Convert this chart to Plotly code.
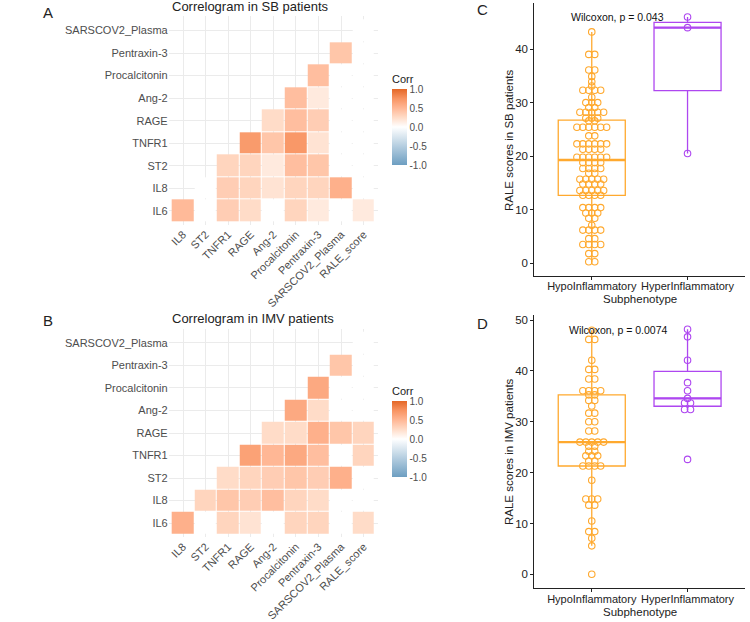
import plotly.graph_objects as go
import numpy as np
from collections import Counter

W, H = 750, 622

# ---------------- DATA ----------------
corr_cols = ["IL8", "ST2", "TNFR1", "RAGE", "Ang-2", "Procalcitonin", "Pentraxin-3", "SARSCOV2_Plasma", "RALE_score"]
corr_rows = ["IL6", "IL8", "ST2", "TNFR1", "RAGE", "Ang-2", "Procalcitonin", "Pentraxin-3", "SARSCOV2_Plasma"]

# lower-triangle correlations (row i starts at column i); 0 = not significant (blank)
sb_corr = [
    [0.48, 0, 0.35, 0.25, 0, 0.30, 0.15, 0, 0.15],
    [0, 0.35, 0.30, 0.20, 0.30, 0.30, 0.55, 0],
    [0.30, 0.30, 0.15, 0.45, 0.40, 0, 0],
    [0.70, 0.40, 0.72, 0.20, 0, 0],
    [0.25, 0.45, 0.35, 0, 0],
    [0.45, 0.15, 0, 0],
    [0.45, 0, 0],
    [0.40, 0],
    [0],
]
imv_corr = [
    [0.55, 0, 0.30, 0.20, 0, 0.30, 0.30, 0, 0.25],
    [0.30, 0.40, 0.35, 0.45, 0.30, 0.25, 0, 0],
    [0.25, 0.30, 0.35, 0.40, 0.35, 0.55, 0],
    [0.65, 0.50, 0.60, 0.45, 0, 0.30],
    [0.25, 0.25, 0.55, 0.40, 0.30],
    [0.60, 0.25, 0, 0],
    [0.60, 0, 0],
    [0.40, 0],
    [0],
]

groups = ["HypoInflammatory", "HyperInflammatory"]

sb_hypo = ([43.2] + [39.0]*2 + [36.1]*2 + [34.9, 33.9, 33.1] + [32.3]*4 + [31.0] + [30.0]*3 +
           [29.1]*2 + [28.2]*5 + [27.1]*3 + [26.6]*2 + [25.4]*6 + [23.8]*2 + [22.3]*6 + [21.3]*4 +
           [19.8]*6 + [18.8]*4 + [17.7]*4 + [16.8]*2 + [15.7]*5 + [14.8]*4 + [13.6]*5 + [12.7]*4 +
           [10.4]*4 + [9.4]*3 + [8.4]*2 + [7.1] + [6.2]*4 + [4.6]*2 + [3.5]*4 + [1.8]*2 + [0.3]*2)
sb_hyper = [46.0, 44.0, 20.5]

imv_hypo = ([48.0] + [46.2]*2 + [42.1] + [40.3]*2 + [38.4]*2 + [36.1]*4 + [35.3]*2 + [34.2]*2 +
            [33.1] + [31.7]*2 + [30.0]*2 + [28.2]*2 + [26.0]*5 + [25.2]*2 + [24.2]*2 + [23.3]*3 +
            [22.3]*2 + [21.3]*4 + [18.5] + [14.8]*3 + [13.6]*2 + [10.5] + [8.4]*2 + [7.1] + [5.6] + [0.0])
imv_hyper = [48.2, 46.7, 42.1, 37.7, 36.1, 34.6, 33.7, 33.7, 32.4, 32.4, 22.6]

sb_label = "Wilcoxon, p = 0.043"
imv_label = "Wilcoxon, p = 0.0074"

# ---------------- STYLE ----------------
FONT = "Liberation Sans, Arial, sans-serif"
ORANGE = "#FFA92E"
PURPLE = "#AE47F0"
# approximates ggplot's Lab-space gradient2 (blue - white - orange)
CSCALE = [[0, "#6D9EC1"], [0.25, "#B5CEE0"], [0.5, "#FFFFFF"], [0.625, "#FFDCC8"],
          [0.75, "#FFB795"], [0.875, "#F89462"], [1, "#E46726"]]


def px_x(a, b):
    return [a / W, b / W]


def px_y(top, bottom):
    return [1 - bottom / H, 1 - top / H]


def tri_matrix(rows):
    return [[None] * i + list(r) for i, r in enumerate(rows)]


def swarm(vals, center, step):
    counts = Counter(vals)
    seen = {}
    xs, ys = [], []
    for v in vals:
        n = counts[v]
        k = seen.get(v, 0)
        seen[v] = k + 1
        xs.append(center + (k - (n - 1) / 2) * step)
        ys.append(v)
    return xs, ys


def box_stats(vals):
    a = np.asarray(vals, dtype=float)
    q1, med, q3 = np.percentile(a, [25, 50, 75])
    iqr = q3 - q1
    lo = a[a >= q1 - 1.5 * iqr].min()
    hi = a[a <= q3 + 1.5 * iqr].max()
    return float(q1), float(med), float(q3), float(lo), float(hi)


fig = go.Figure()

# ---------------- HEATMAPS ----------------
heat_specs = [
    (sb_corr, "x", "y", 165.0),
    (imv_corr, "x2", "y2", 477.0),
]
for rows, xa, ya, cb_bottom in heat_specs:
    fig.add_trace(go.Heatmap(
        z=tri_matrix(rows),
        x=list(range(len(corr_cols))),
        y=list(range(len(corr_rows))),
        xaxis=xa, yaxis=ya,
        zmin=-1, zmax=1, colorscale=CSCALE,
        xgap=1, ygap=1, hoverongaps=False,
        colorbar=dict(
            title=dict(text="Corr", side="top", font=dict(size=11, color="#222", family=FONT)),
            x=392 / W, xanchor="left", xpad=0,
            y=1 - cb_bottom / H, yanchor="bottom", ypad=0,
            lenmode="pixels", len=93, thickness=15,
            outlinewidth=0, ticks="",
            tickvals=[1, 0.5, 0, -0.5, -1],
            ticktext=["1.0", "0.5", "0.0", "-0.5", "-1.0"],
            tickfont=dict(size=10, color="#4D4D4D", family=FONT),
        ),
    ))

heat_xaxis = dict(
    domain=px_x(168.7, 378.0), range=[-0.633, 8.633],
    tickmode="array", tickvals=list(range(len(corr_cols))), ticktext=corr_cols,
    tickangle=-45, showgrid=True, gridcolor="#EBEBEB", gridwidth=1,
    zeroline=False, showline=False, ticks="",
    tickfont=dict(size=11, color="#4D4D4D", family=FONT),
)
heat_yaxis = dict(
    range=[-0.633, 8.633],
    tickmode="array", tickvals=list(range(len(corr_rows))), ticktext=corr_rows,
    showgrid=True, gridcolor="#EBEBEB", gridwidth=1,
    zeroline=False, showline=False, ticks="",
    tickfont=dict(size=11, color="#4D4D4D", family=FONT),
)

# ---------------- BOX + DOT PLOTS ----------------
box_specs = [
    (sb_hypo, sb_hyper, "x3", "y3"),
    (imv_hypo, imv_hyper, "x4", "y4"),
]
for hypo, hyper, xa, ya in box_specs:
    for gi, (vals, col) in enumerate([(hypo, ORANGE), (hyper, PURPLE)]):
        pos = gi + 1
        q1, med, q3, lo, hi = box_stats(vals)
        fig.add_trace(go.Box(
            x=[pos], q1=[q1], median=[med], q3=[q3], lowerfence=[lo], upperfence=[hi],
            xaxis=xa, yaxis=ya,
            width=0.7, whiskerwidth=0, boxpoints=False,
            line=dict(color=col, width=1.3), fillcolor="rgba(255,255,255,0)",
            showlegend=False, hoverinfo="skip",
        ))
        # thicker median bar, as in ggplot
        fig.add_trace(go.Scatter(
            x=[pos - 0.35, pos + 0.35], y=[med, med], xaxis=xa, yaxis=ya, mode="lines",
            line=dict(color=col, width=2.4), showlegend=False, hoverinfo="skip",
        ))
        sx, sy = swarm(vals, pos, 0.062)
        fig.add_trace(go.Scatter(
            x=sx, y=sy, xaxis=xa, yaxis=ya, mode="markers",
            marker=dict(symbol="circle-open", size=6.5, color=col, line=dict(width=1.1)),
            showlegend=False, hoverinfo="skip",
        ))

box_xaxis = dict(
    domain=px_x(534.3, 745.0), range=[0.4, 2.6],
    tickmode="array", tickvals=[1, 2], ticktext=groups, tickangle=0,
    showline=True, linecolor="#222", linewidth=1, ticks="outside", ticklen=3,
    tickcolor="#222", showgrid=False, zeroline=False, ticklabelstandoff=-3,
    tickfont=dict(size=11, color="#222", family=FONT),
)
box_yaxis = dict(
    showline=True, linecolor="#222", linewidth=1, ticks="outside", ticklen=3,
    tickcolor="#222", showgrid=False, zeroline=False,
    tickvals=[0, 10, 20, 30, 40, 50],
    tickfont=dict(size=11.5, color="#222", family=FONT),
)

fig.update_layout(
    width=W, height=H, margin=dict(l=0, r=0, t=0, b=0),
    paper_bgcolor="white", plot_bgcolor="white", showlegend=False,
    font=dict(family=FONT),
    xaxis=dict(heat_xaxis, anchor="y"),
    yaxis=dict(heat_yaxis, domain=px_y(16.3, 225.0), anchor="x"),
    xaxis2=dict(heat_xaxis, anchor="y2"),
    yaxis2=dict(heat_yaxis, domain=px_y(328.7, 537.3), anchor="x2"),
    xaxis3=dict(box_xaxis, anchor="y3"),
    yaxis3=dict(box_yaxis, domain=px_y(3, 276), range=[-2.37, 48.6], anchor="x3"),
    xaxis4=dict(box_xaxis, anchor="y4"),
    yaxis4=dict(box_yaxis, domain=px_y(315, 588.3), range=[-2.75, 51.0], anchor="x4"),
)

ann = []


def paper_text(text, x, y, size, xanchor="center", color="#222", angle=0):
    ann.append(dict(text=text, x=x / W, y=1 - y / H, xref="paper", yref="paper",
                    xanchor=xanchor, yanchor="middle", showarrow=False, textangle=angle,
                    font=dict(size=size, color=color, family=FONT)))


paper_text("A", 48, 12, 15)
paper_text("B", 48, 320, 15)
paper_text("C", 482, 10, 15)
paper_text("D", 482, 323, 15)
paper_text("Correlogram in SB patients", 170, 7, 13, xanchor="left")
paper_text("Correlogram in IMV patients", 170, 318, 13, xanchor="left")
paper_text("RALE scores in SB patients", 509, 140, 11.5, angle=-90)
paper_text("RALE scores in IMV patients", 509, 452, 11.5, angle=-90)
paper_text("Subphenotype", 640, 298.5, 11.5)
paper_text("Subphenotype", 640, 612, 11.5)

ann.append(dict(text=sb_label, x=1.267, y=46.0, xref="x3", yref="y3", showarrow=False,
                font=dict(size=10.5, color="#111", family=FONT)))
ann.append(dict(text=imv_label, x=1.283, y=48.0, xref="x4", yref="y4", showarrow=False,
                font=dict(size=10.5, color="#111", family=FONT)))

fig.update_layout(annotations=ann)
fig.write_html("out.html", config={"displayModeBar": False},
               post_script="document.body.style.margin='0';document.body.style.overflow='hidden';")
